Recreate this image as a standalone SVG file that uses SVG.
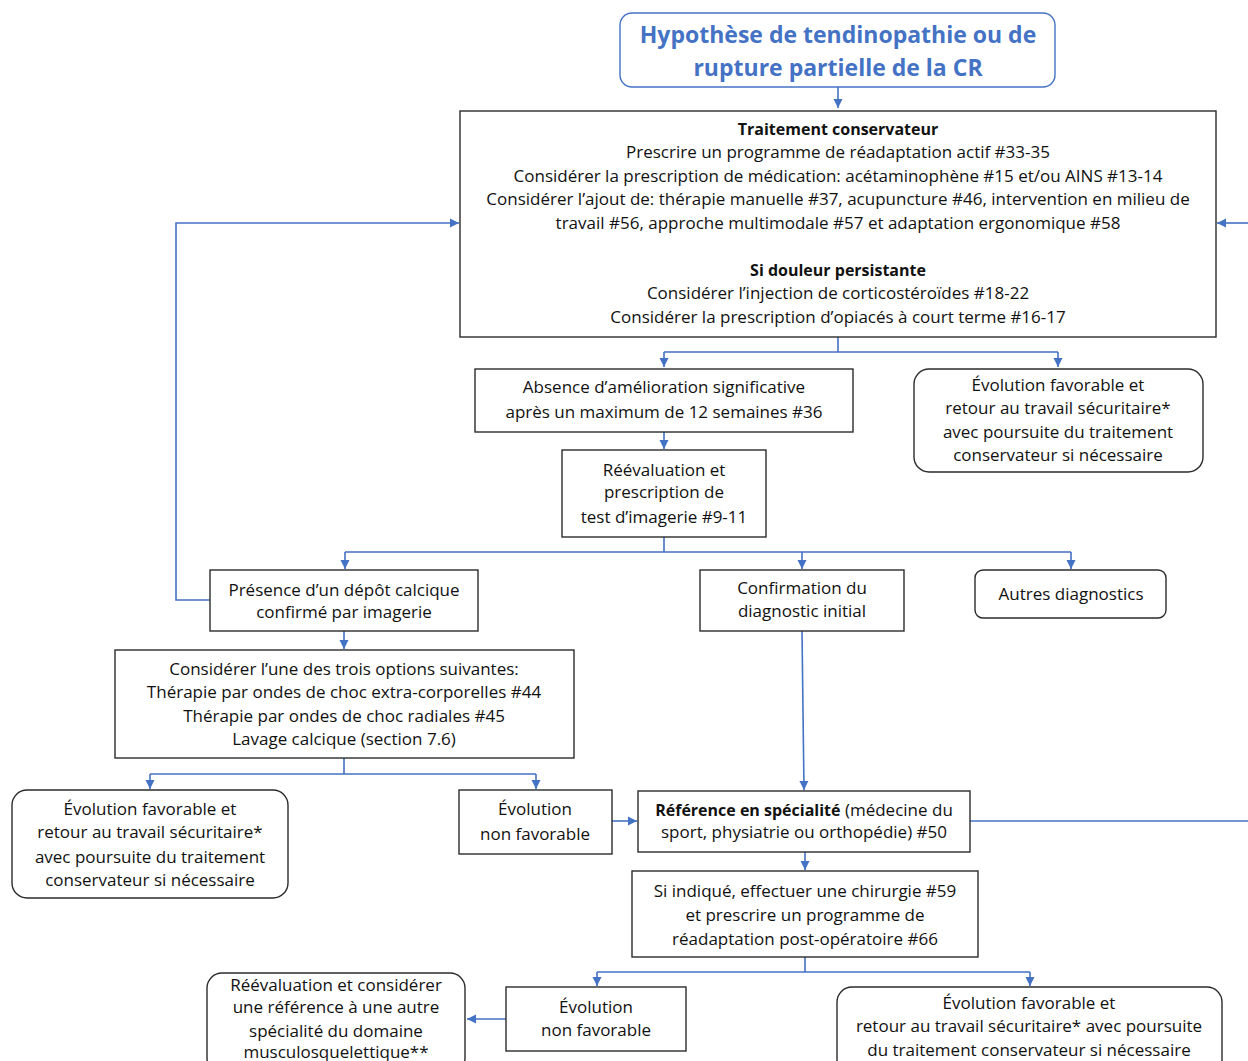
<svg xmlns="http://www.w3.org/2000/svg" width="1248" height="1061" viewBox="0 0 1248 1061">
<defs>
<marker id="ah" markerWidth="10" markerHeight="10" refX="9" refY="5" orient="auto" markerUnits="userSpaceOnUse">
<path d="M0,0.5 L9,5 L0,9.5 Z" fill="#4472C4"/>
</marker>
<style>
.box{fill:#fff;stroke:#2b2b2b;stroke-width:1.4}
.tbox{fill:#fff;stroke:#4472C4;stroke-width:1.4}
.t{font-family:"Open Sans","Liberation Sans",sans-serif;font-size:17px;fill:#111;text-anchor:middle}
.b{font-weight:bold;font-size:16px}
.title{font-family:"Open Sans","Liberation Sans",sans-serif;font-size:23px;font-weight:bold;fill:#4472C4;text-anchor:middle}
.c{fill:none;stroke:#4472C4;stroke-width:1.6}
.ca{fill:none;stroke:#4472C4;stroke-width:1.6;marker-end:url(#ah)}
</style>
</defs>
<rect width="1248" height="1061" fill="#fff"/>

<g id="connectors">
<path class="ca" d="M838,87 V108"/>
<path class="c" d="M838,337 V352 M664,352 H1058"/>
<path class="ca" d="M664,352 V367"/>
<path class="ca" d="M1058,352 V367"/>
<path class="ca" d="M664,432 V449"/>
<path class="c" d="M664,537 V552 M345,552 H1071"/>
<path class="ca" d="M345,552 V569"/>
<path class="ca" d="M802,552 V569"/>
<path class="ca" d="M1071,552 V569"/>
<path class="ca" d="M210,600 H176 V223 H459"/>
<path class="ca" d="M1248,223 H1217"/>
<path class="c" d="M970,821 H1248"/>
<path class="ca" d="M344,631 V649"/>
<path class="c" d="M344,758 V774 M150,774 H536"/>
<path class="ca" d="M150,774 V789"/>
<path class="ca" d="M536,774 V789"/>
<path class="ca" d="M612,821 H637"/>
<path class="ca" d="M802,631 L804,790"/>
<path class="ca" d="M805,852 V870"/>
<path class="c" d="M805,957 V972 M597,972 H1030"/>
<path class="ca" d="M597,972 V986"/>
<path class="ca" d="M1030,972 V986"/>
<path class="ca" d="M506,1019 H467"/>
</g>

<g id="n-title">
<rect class="tbox" x="620" y="13" width="435" height="74" rx="12"/>
<text class="title" x="838" y="43">Hypothèse de tendinopathie ou de</text>
<text class="title" x="838" y="76">rupture partielle de la CR</text>
</g>

<g id="n-traitement">
<rect class="box" x="460" y="111" width="756" height="226"/>
<text class="t b" x="838" y="135">Traitement conservateur</text>
<text class="t" x="838" y="158">Prescrire un programme de réadaptation actif #33-35</text>
<text class="t" x="838" y="182">Considérer la prescription de médication: acétaminophène #15 et/ou AINS #13-14</text>
<text class="t" x="838" y="205">Considérer l’ajout de: thérapie manuelle #37, acupuncture #46, intervention en milieu de</text>
<text class="t" x="838" y="229">travail #56, approche multimodale #57 et adaptation ergonomique #58</text>
<text class="t b" x="838" y="276">Si douleur persistante</text>
<text class="t" x="838" y="299">Considérer l’injection de corticostéroïdes #18-22</text>
<text class="t" x="838" y="323">Considérer la prescription d’opiacés à court terme #16-17</text>
</g>

<g id="n-absence">
<rect class="box" x="475" y="369" width="378" height="63"/>
<text class="t" x="664" y="393">Absence d’amélioration significative</text>
<text class="t" x="664" y="418">après un maximum de 12 semaines #36</text>
</g>

<g id="n-evol1">
<rect class="box" x="914" y="369" width="289" height="103" rx="15"/>
<text class="t" x="1058" y="391">Évolution favorable et</text>
<text class="t" x="1058" y="414">retour au travail sécuritaire*</text>
<text class="t" x="1058" y="438">avec poursuite du traitement</text>
<text class="t" x="1058" y="461">conservateur si nécessaire</text>
</g>

<g id="n-reeval">
<rect class="box" x="562" y="450" width="204" height="87"/>
<text class="t" x="664" y="476">Réévaluation et</text>
<text class="t" x="664" y="498">prescription de</text>
<text class="t" x="664" y="523">test d’imagerie #9-11</text>
</g>

<g id="n-presence">
<rect class="box" x="210" y="570" width="268" height="61"/>
<text class="t" x="344" y="596">Présence d’un dépôt calcique</text>
<text class="t" x="344" y="618">confirmé par imagerie</text>
</g>

<g id="n-confirm">
<rect class="box" x="700" y="570" width="204" height="61"/>
<text class="t" x="802" y="594">Confirmation du</text>
<text class="t" x="802" y="617">diagnostic initial</text>
</g>

<g id="n-autres">
<rect class="box" x="975" y="570" width="191" height="48" rx="8"/>
<text class="t" x="1071" y="600">Autres diagnostics</text>
</g>

<g id="n-options">
<rect class="box" x="115" y="650" width="459" height="108"/>
<text class="t" x="344" y="675">Considérer l’une des trois options suivantes:</text>
<text class="t" x="344" y="698">Thérapie par ondes de choc extra-corporelles #44</text>
<text class="t" x="344" y="722">Thérapie par ondes de choc radiales #45</text>
<text class="t" x="344" y="745">Lavage calcique (section 7.6)</text>
</g>

<g id="n-evol2">
<rect class="box" x="12" y="790" width="276" height="108" rx="15"/>
<text class="t" x="150" y="815">Évolution favorable et</text>
<text class="t" x="150" y="838">retour au travail sécuritaire*</text>
<text class="t" x="150" y="863">avec poursuite du traitement</text>
<text class="t" x="150" y="886">conservateur si nécessaire</text>
</g>

<g id="n-nonfav1">
<rect class="box" x="459" y="790" width="153" height="64"/>
<text class="t" x="535" y="815">Évolution</text>
<text class="t" x="535" y="840">non favorable</text>
</g>

<g id="n-reference">
<rect class="box" x="638" y="791" width="332" height="61"/>
<text class="t" x="804" y="816"><tspan class="b">Référence en spécialité</tspan> (médecine du</text>
<text class="t" x="804" y="838">sport, physiatrie ou orthopédie) #50</text>
</g>

<g id="n-chirurgie">
<rect class="box" x="632" y="871" width="346" height="86"/>
<text class="t" x="805" y="897">Si indiqué, effectuer une chirurgie #59</text>
<text class="t" x="805" y="921">et prescrire un programme de</text>
<text class="t" x="805" y="945">réadaptation post-opératoire  #66</text>
</g>

<g id="n-nonfav2">
<rect class="box" x="506" y="987" width="180" height="64"/>
<text class="t" x="596" y="1013">Évolution</text>
<text class="t" x="596" y="1036">non favorable</text>
</g>

<g id="n-reeval2">
<rect class="box" x="207" y="973" width="258" height="100" rx="15"/>
<text class="t" x="336" y="991">Réévaluation et considérer</text>
<text class="t" x="336" y="1013">une référence à une autre</text>
<text class="t" x="336" y="1037">spécialité du domaine</text>
<text class="t" x="336" y="1058">musculosquelettique**</text>
</g>

<g id="n-evol3">
<rect class="box" x="837" y="987" width="385" height="90" rx="15"/>
<text class="t" x="1029" y="1009">Évolution favorable et</text>
<text class="t" x="1029" y="1032">retour au travail sécuritaire* avec poursuite</text>
<text class="t" x="1029" y="1056">du traitement conservateur si nécessaire</text>
</g>
</svg>
